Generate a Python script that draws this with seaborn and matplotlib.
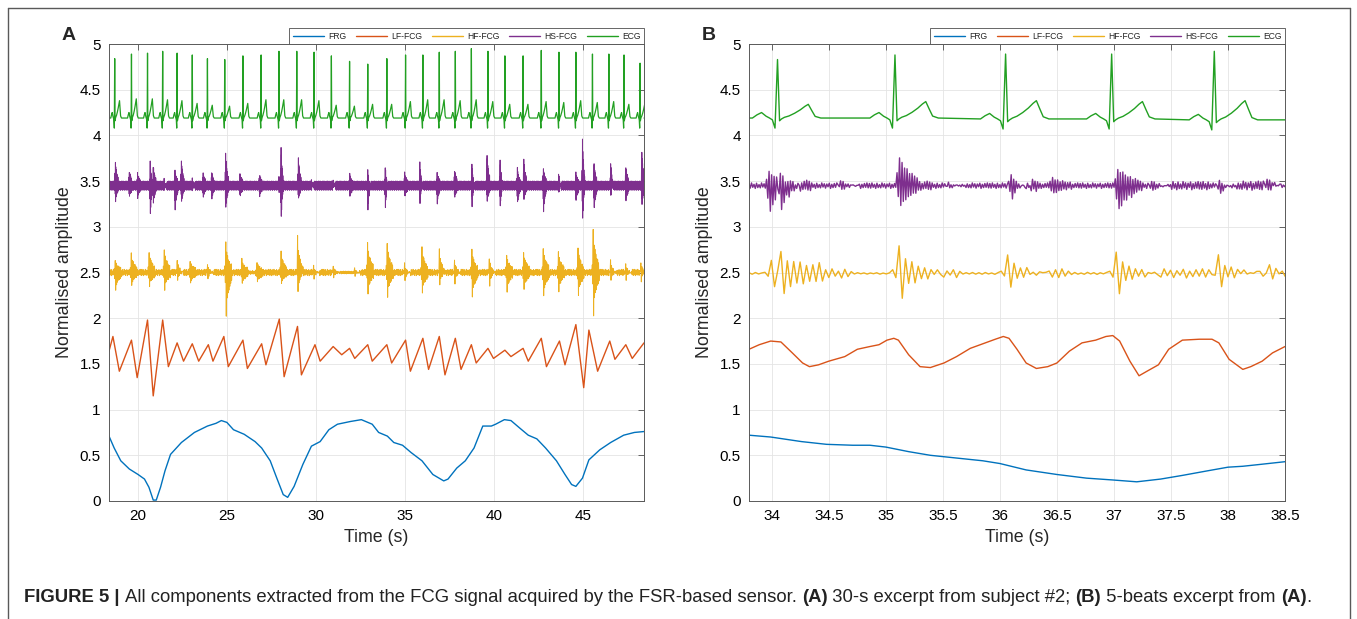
import numpy as np
import matplotlib
matplotlib.use("Agg")
import matplotlib.pyplot as plt
import seaborn as sns
from matplotlib.lines import Line2D

##############################################
### DATA #####################################
##############################################

names = ["FRG", "LF-FCG", "HF-FCG", "HS-FCG", "ECG"]
colors = ["#0072BD", "#D95319", "#EDB120", "#7E2F8E", "#22A022"]

### Panel A : 30-s excerpt
a_xlim = (18.4, 48.4)
a_xticks = [20, 25, 30, 35, 40, 45]

# ECG beats (R time, R peak, T peak)
a_beats = [18.72, 19.66, 20.56, 21.41, 22.22, 23.07, 23.92, 24.89, 25.91, 26.93, 27.93,
           28.93, 29.90, 30.87, 31.89, 32.91, 33.98, 35.03, 36.00, 36.92, 37.82, 38.72,
           39.65, 40.60, 41.62, 42.64, 43.63, 44.58, 45.51, 46.43, 47.28, 48.18]
a_r_peak = [4.84, 4.89, 4.90, 4.92, 4.90, 4.88, 4.84, 4.83, 4.87, 4.88, 4.92, 4.92, 4.91,
            4.87, 4.81, 4.78, 4.84, 4.88, 4.88, 4.91, 4.92, 4.95, 4.92, 4.87, 4.87, 4.93,
            4.91, 4.91, 4.89, 4.89, 4.88, 4.79]
a_t_peak = [4.38, 4.40, 4.40, 4.39, 4.38, 4.35, 4.33, 4.32, 4.35, 4.39, 4.39, 4.39, 4.38,
            4.33, 4.32, 4.34, 4.34, 4.37, 4.39, 4.39, 4.38, 4.39, 4.37, 4.34, 4.34, 4.37,
            4.36, 4.38, 4.36, 4.37, 4.34, 4.35]
a_ecg_base = [4.19] * len(a_beats)

# FRG
a_frg_t = [18.40, 18.69, 19.06, 19.54, 20.03, 20.39, 20.64, 20.88, 21.05, 21.29, 21.54,
           21.85, 22.46, 23.19, 23.92, 24.40, 24.70, 25.01, 25.38, 25.98, 26.59, 26.96,
           27.44, 27.81, 28.17, 28.42, 28.78, 29.27, 29.75, 30.24, 30.73, 31.21, 31.94,
           32.55, 33.16, 33.52, 34.01, 34.37, 34.86, 35.34, 35.95, 36.56, 37.17, 37.41,
           37.90, 38.38, 38.87, 39.36, 39.84, 40.08, 40.57, 40.94, 41.42, 41.91, 42.39,
           42.88, 43.49, 43.97, 44.34, 44.58, 44.95, 45.31, 45.92, 46.53, 47.26, 47.86, 48.40]
a_frg_y = [0.71, 0.58, 0.44, 0.35, 0.29, 0.24, 0.15, 0.01, 0.01, 0.15, 0.33,
           0.51, 0.64, 0.75, 0.82, 0.85, 0.88, 0.86, 0.78, 0.73, 0.65, 0.58,
           0.44, 0.25, 0.07, 0.04, 0.16, 0.40, 0.60, 0.65, 0.78, 0.84, 0.87,
           0.89, 0.84, 0.75, 0.71, 0.64, 0.61, 0.53, 0.44, 0.29, 0.22, 0.24,
           0.36, 0.44, 0.58, 0.82, 0.82, 0.84, 0.89, 0.88, 0.80, 0.72, 0.68,
           0.58, 0.44, 0.29, 0.18, 0.16, 0.25, 0.45, 0.56, 0.64, 0.72, 0.75, 0.76]

# LF-FCG (alternating peaks / troughs)
a_lf_t = [18.40, 18.62, 18.98, 19.66, 19.98, 20.56, 20.88, 21.41, 21.73, 22.22, 22.58,
          23.07, 23.43, 23.97, 24.23, 24.84, 25.09, 25.91, 26.16, 26.96, 27.20, 27.95,
          28.22, 28.97, 29.19, 29.95, 30.24, 30.97, 31.45, 31.89, 32.18, 32.91, 33.16,
          33.98, 34.25, 35.03, 35.30, 36.00, 36.32, 36.92, 37.24, 37.82, 38.14, 38.72,
          38.99, 39.65, 39.96, 40.60, 40.94, 41.62, 41.91, 42.64, 42.93, 43.66, 43.97,
          44.58, 45.02, 45.31, 45.80, 46.48, 46.77, 47.38, 47.74, 48.40]
a_lf_y = [1.64, 1.80, 1.42, 1.76, 1.35, 1.98, 1.15, 1.98, 1.47, 1.73, 1.53,
          1.72, 1.53, 1.71, 1.53, 1.80, 1.47, 1.76, 1.45, 1.72, 1.49, 1.99,
          1.36, 1.91, 1.38, 1.71, 1.53, 1.69, 1.60, 1.67, 1.56, 1.71, 1.53,
          1.71, 1.51, 1.76, 1.42, 1.78, 1.44, 1.80, 1.38, 1.78, 1.44, 1.71,
          1.51, 1.67, 1.56, 1.65, 1.58, 1.67, 1.53, 1.78, 1.47, 1.75, 1.49,
          1.93, 1.24, 1.87, 1.42, 1.75, 1.55, 1.71, 1.56, 1.73]

# HF-FCG bursts (time, top, bottom)
a_hf_level = 2.50
a_hf_bursts = [(18.76, 2.61, 2.32), (19.66, 2.68, 2.38), (20.64, 2.70, 2.37), (21.49, 2.73, 2.34),
               (22.22, 2.66, 2.38), (22.95, 2.60, 2.40), (23.92, 2.62, 2.40), (24.94, 2.80, 2.05),
               (25.86, 2.62, 2.40), (26.71, 2.58, 2.42), (28.05, 2.70, 2.40), (28.97, 2.92, 2.26),
               (29.87, 2.60, 2.41), (30.97, 2.58, 2.43), (32.18, 2.58, 2.43), (32.91, 2.81, 2.30),
               (34.01, 2.79, 2.26), (34.98, 2.62, 2.38), (35.95, 2.75, 2.30), (36.92, 2.78, 2.33),
               (37.78, 2.66, 2.36), (38.75, 2.72, 2.26), (39.72, 2.68, 2.33), (40.69, 2.67, 2.32),
               (41.66, 2.70, 2.34), (42.76, 2.74, 2.26), (43.61, 2.70, 2.32), (44.70, 2.74, 2.27),
               (45.55, 2.94, 2.05), (46.53, 2.66, 2.38), (47.38, 2.62, 2.40), (48.23, 2.64, 2.38)]
a_hf_quiet = [(30.9, 32.1, 0.015), (26.2, 26.6, 0.02)]

# HS-FCG bursts (time, top, bottom)
a_hs_level = 3.45
a_hs_bursts = [(18.76, 3.67, 3.32), (19.54, 3.57, 3.37), (20.00, 3.55, 3.36), (20.71, 3.74, 3.10),
               (20.88, 3.63, 3.30), (21.49, 3.56, 3.35), (22.10, 3.57, 3.21), (22.46, 3.67, 3.32),
               (23.07, 3.56, 3.36), (23.68, 3.55, 3.37), (24.16, 3.55, 3.35), (24.94, 3.76, 3.25),
               (25.74, 3.55, 3.37), (26.84, 3.53, 3.38), (27.93, 3.60, 3.35), (28.05, 3.88, 3.09),
               (29.02, 3.71, 3.35), (29.75, 3.55, 3.38), (30.97, 3.55, 3.38), (31.90, 3.54, 3.37),
               (32.91, 3.65, 3.15), (33.89, 3.69, 3.18), (34.98, 3.55, 3.37), (35.83, 3.73, 3.21),
               (36.80, 3.55, 3.30), (37.78, 3.58, 3.36), (38.75, 3.72, 3.18), (39.60, 3.76, 3.32),
               (40.33, 3.77, 3.18), (41.30, 3.60, 3.30), (41.66, 3.69, 3.34), (42.76, 3.60, 3.21),
               (43.61, 3.62, 3.33), (44.58, 3.55, 3.32), (44.95, 3.98, 3.05), (45.60, 3.67, 3.25),
               (46.53, 3.74, 3.30), (47.38, 3.62, 3.32), (48.28, 3.78, 3.29)]

### Panel B : 5-beats excerpt
b_xlim = (33.8, 38.5)
b_xticks = [34, 34.5, 35, 35.5, 36, 36.5, 37, 37.5, 38, 38.5]

b_beats = [34.05, 35.08, 36.05, 36.98, 37.88]
b_r_peak = [4.83, 4.88, 4.89, 4.89, 4.92]
b_t_peak = [4.34, 4.37, 4.38, 4.37, 4.38]
b_ecg_base = [4.19, 4.19, 4.18, 4.18, 4.17]

b_frg_t = [33.80, 33.99, 34.26, 34.48, 34.71, 34.86, 35.00, 35.20, 35.39, 35.62, 35.85, 36.00,
           36.23, 36.50, 36.76, 36.99, 37.20, 37.41, 37.60, 37.82, 38.00, 38.13, 38.28, 38.50]
b_frg_y = [0.72, 0.70, 0.65, 0.62, 0.61, 0.61, 0.59, 0.54, 0.50, 0.47, 0.44, 0.41,
           0.34, 0.29, 0.25, 0.23, 0.21, 0.24, 0.28, 0.33, 0.37, 0.38, 0.40, 0.43]

b_lf_t = [33.80, 33.89, 33.99, 34.08, 34.18, 34.27, 34.33, 34.41, 34.50, 34.64, 34.75, 34.86,
          34.94, 35.01, 35.07, 35.11, 35.20, 35.30, 35.39, 35.51, 35.62, 35.74, 35.85, 35.96,
          36.03, 36.08, 36.15, 36.23, 36.32, 36.42, 36.50, 36.61, 36.72, 36.84, 36.93, 36.99,
          37.05, 37.14, 37.22, 37.29, 37.39, 37.48, 37.60, 37.75, 37.86, 37.92, 38.01, 38.13,
          38.20, 38.30, 38.39, 38.50]
b_lf_y = [1.66, 1.71, 1.75, 1.74, 1.62, 1.51, 1.47, 1.49, 1.53, 1.58, 1.66, 1.69,
          1.71, 1.76, 1.78, 1.76, 1.60, 1.47, 1.46, 1.51, 1.58, 1.67, 1.72, 1.77,
          1.80, 1.78, 1.66, 1.51, 1.45, 1.47, 1.51, 1.64, 1.73, 1.76, 1.80, 1.81,
          1.75, 1.53, 1.37, 1.42, 1.49, 1.66, 1.76, 1.77, 1.77, 1.73, 1.55, 1.44,
          1.47, 1.53, 1.62, 1.69]

b_hf_level = 2.49
b_hf_bursts = [(34.00, 2.64, 2.29), (34.09, 2.83, 2.20), (35.12, 2.80, 2.21), (36.08, 2.70, 2.33),
               (37.01, 2.73, 2.26), (37.91, 2.70, 2.34), (38.35, 2.62, 2.39)]
b_hf_env = [(34.15, 34.71, 0.05), (34.71, 35.05, 0.008), (35.15, 35.66, 0.045), (35.66, 36.04, 0.01),
            (36.10, 36.60, 0.05), (36.60, 36.99, 0.012), (37.05, 37.86, 0.05), (37.95, 38.50, 0.05)]

b_hs_level = 3.45
b_hs_bursts = [(33.98, 3.58, 3.20), (34.07, 3.70, 3.12), (34.60, 3.53, 3.38), (35.12, 3.73, 3.26),
               (35.55, 3.50, 3.40), (36.10, 3.60, 3.27), (36.46, 3.51, 3.39), (37.03, 3.60, 3.22),
               (37.33, 3.52, 3.37), (37.92, 3.52, 3.34), (38.34, 3.57, 3.36)]
b_hs_env = [(34.10, 34.35, 0.06), (35.15, 35.40, 0.05), (36.10, 36.35, 0.07), (37.05, 37.25, 0.06),
            (37.50, 37.85, 0.045), (37.95, 38.50, 0.05)]

### shapes (one heart beat / one sound burst)
ecg_off = [-0.22, -0.18, -0.14, -0.10, -0.07, -0.045, -0.022, 0.0, 0.018, 0.035,
           0.06, 0.10, 0.15, 0.20, 0.24, 0.27, 0.30, 0.33, 0.38]
ecg_pq = [0.0, 0.035, 0.06, 0.02, 0.0, -0.02, -0.11, 0.0, -0.03, -0.01,
          0.0, 0.0, 0.0, 0.0, 0.0, 0.0, 0.0, 0.0, 0.0]
ecg_rw = [0, 0, 0, 0, 0, 0, 0, 1, 0, 0, 0, 0, 0, 0, 0, 0, 0, 0, 0]
ecg_tw = [0, 0, 0, 0, 0, 0, 0, 0, 0, 0, 0.05, 0.15, 0.35, 0.6, 0.85, 1.0, 0.55, 0.12, 0.0]

ripple = [0.8, -0.9, 1.0, -0.6, 0.5, -1.0, 0.9, -0.7, 0.4, -0.8, 1.0, -0.5,
          0.7, -0.9, 0.6, -0.4, 0.9, -1.0, 0.5, -0.7, 0.8, -0.6, 1.0, -0.8]
hs_shape = [0.4, -0.5, 1.0, -1.0, 0.8, -0.75, 0.6, -0.55, 0.5, -0.45, 0.4, -0.35,
            0.3, -0.3, 0.25, -0.2, 0.2, -0.15]
hf_shape = [0.15, -0.2, 1.0, -1.0, 0.65, -0.55, 0.5, -0.45, 0.4, -0.35, 0.3, -0.28,
            0.25, -0.2, 0.2, -0.15]


##############################################
### USEFUL FUNCTIONS #########################
##############################################
def ecg_trace(beats, r_peak, t_peak, base, xlim):
    t = [xlim[0]]
    y = [base[0]]
    for tb, r, tw, b in zip(beats, r_peak, t_peak, base):
        for off, pq, rw, twv in zip(ecg_off, ecg_pq, ecg_rw, ecg_tw):
            t.append(tb + off)
            y.append(b + pq + rw * (r - b) + twv * (tw - b))
    t.append(xlim[1])
    y.append(base[-1])
    return np.array(t), np.array(y)


def burst_trace(xlim, dt, level, amp, env, bursts, shape):
    t = np.arange(xlim[0], xlim[1] + dt, dt)
    a = np.full(len(t), amp)
    for s0, s1, v in env:
        a[(t >= s0) & (t < s1)] = v
    y = level + np.resize(ripple, len(t)) * a
    shape = np.array(shape)
    k = int(np.argmax(shape))
    for tb, top, bot in bursts:
        seg = np.where(shape > 0, shape * (top - level), shape * (level - bot))
        i0 = int(round((tb - xlim[0]) / dt)) - k
        for j, v in enumerate(seg):
            if 0 <= i0 + j < len(t):
                y[i0 + j] += v
    return t, y


##############################################
### PLOT #####################################
##############################################
sns.set_theme(style="white")
plt.rcParams["font.family"] = ["Liberation Sans", "DejaVu Sans"]

W, H = 1357, 619
fig = plt.figure(figsize=(W / 100, H / 100), dpi=100)

panels = [
    dict(rect=[109 / W, 1 - 501 / H, 535 / W, 457 / H], xlim=a_xlim, xticks=a_xticks, label="A",
         frg=(np.array(a_frg_t), np.array(a_frg_y)),
         lf=(np.array(a_lf_t), np.array(a_lf_y)),
         hf=burst_trace(a_xlim, 0.025, a_hf_level, 0.035, a_hf_quiet, a_hf_bursts, hf_shape),
         hs=burst_trace(a_xlim, 0.01, a_hs_level, 0.05, [], a_hs_bursts, hs_shape),
         ecg=ecg_trace(a_beats, a_r_peak, a_t_peak, a_ecg_base, a_xlim),
         lws=[1.0, 1.0, 0.7, 0.7, 0.9]),
    dict(rect=[749 / W, 1 - 501 / H, 536 / W, 457 / H], xlim=b_xlim, xticks=b_xticks, label="B",
         frg=(np.array(b_frg_t), np.array(b_frg_y)),
         lf=(np.array(b_lf_t), np.array(b_lf_y)),
         hf=burst_trace(b_xlim, 0.028, b_hf_level, 0.01, b_hf_env, b_hf_bursts, hf_shape),
         hs=burst_trace(b_xlim, 0.011, b_hs_level, 0.03, b_hs_env, b_hs_bursts, hs_shape),
         ecg=ecg_trace(b_beats, b_r_peak, b_t_peak, b_ecg_base, b_xlim),
         lws=[1.0, 1.0, 1.0, 1.0, 1.0]),
]

for p in panels:
    ax = fig.add_axes(p["rect"])
    for key, c, lw in zip(["frg", "lf", "hf", "hs", "ecg"], colors, p["lws"]):
        t, y = p[key]
        sns.lineplot(x=t, y=y, ax=ax, color=c, lw=lw, sort=False,
                     estimator=None, errorbar=None, legend=False)
    ax.set_xlim(*p["xlim"])
    ax.set_ylim(0, 5)
    ax.set_xticks(p["xticks"])
    ax.set_xticklabels([f"{v:g}" for v in p["xticks"]])
    yt = np.arange(0, 5.01, 0.5)
    ax.set_yticks(yt)
    ax.set_yticklabels([f"{v:g}" for v in yt])
    ax.grid(True, color="#e4e4e4", lw=0.6)
    ax.set_axisbelow(True)
    ax.tick_params(direction="in", top=True, right=True, length=4, width=0.6,
                   color="0.3", labelcolor="black", labelsize=11, pad=6)
    for s in ax.spines.values():
        s.set_color("0.35")
        s.set_linewidth(0.7)
    ax.set_xlabel("Time (s)", fontsize=12.8, labelpad=4)
    ax.set_ylabel("Normalised amplitude", fontsize=12.8, labelpad=5)

    handles = [Line2D([0], [0], color=c, lw=1.0) for c in colors]
    leg = ax.legend(handles, names, loc="lower right", bbox_to_anchor=(1.0, 1.0), ncol=5,
                    fontsize=6.2, frameon=True, fancybox=False, edgecolor="0.3", framealpha=1,
                    borderpad=0.4, handlelength=3.6, handletextpad=0.5, columnspacing=1.1,
                    borderaxespad=0.0)
    leg.get_frame().set_linewidth(0.6)

    x_lab = p["rect"][0] - 47 / W
    fig.text(x_lab, 1 - 35 / H, p["label"], fontsize=14, fontweight="bold", ha="left", va="center")

# frame around figure
for xs, ys in [([8 / W, 8 / W], [-0.01, 1 - 8 / H]), ([8 / W, 1350 / W], [1 - 8 / H, 1 - 8 / H]),
               ([1350 / W, 1350 / W], [-0.01, 1 - 8 / H])]:
    fig.add_artist(Line2D(xs, ys, transform=fig.transFigure, color="0.35", lw=1.0))

# caption (mixed bold / regular pieces)
caption = [("FIGURE 5 | ", "bold"),
           ("All components extracted from the FCG signal acquired by the FSR-based sensor. ", "normal"),
           ("(A)", "bold"), (" 30-s excerpt from subject #2; ", "normal"),
           ("(B)", "bold"), (" 5-beats excerpt from ", "normal"), ("(A)", "bold"), (".", "normal")]
renderer = fig.canvas.get_renderer()
x = 24 / W
for txt, wgt in caption:
    tt = fig.text(x, 1 - 598 / H, txt, fontsize=13.3, fontweight=wgt, ha="left", va="center",
                  color="#222222")
    x += tt.get_window_extent(renderer).width / W

fig.savefig("out.png", dpi=100)
